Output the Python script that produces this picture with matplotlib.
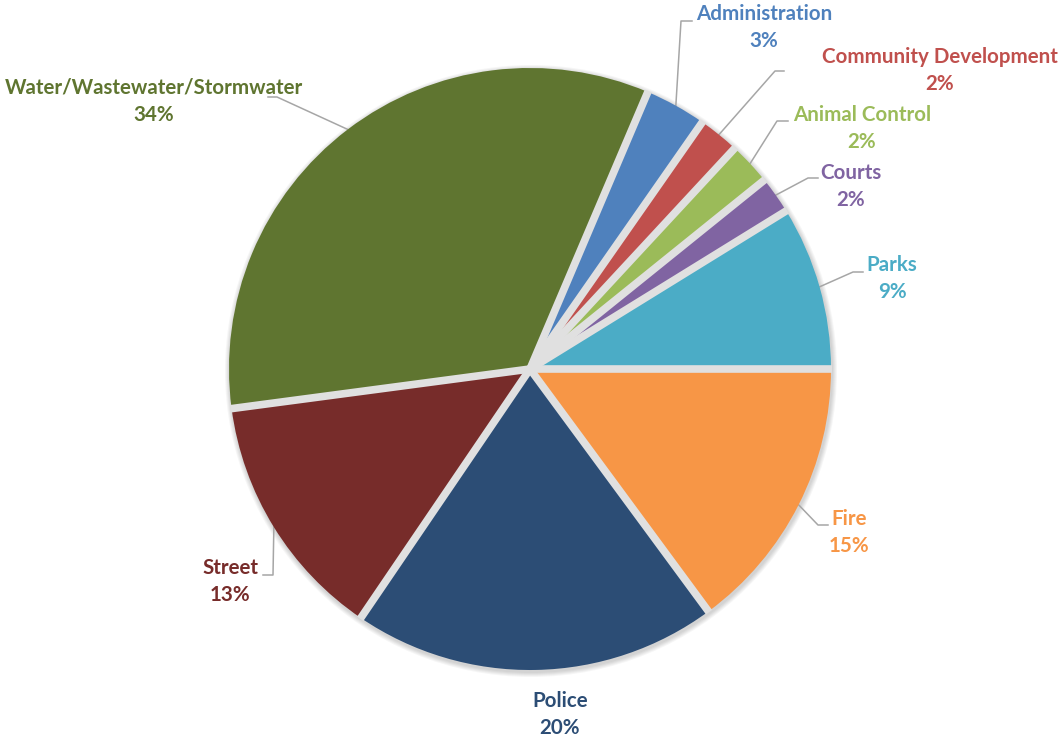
import numpy as np
import matplotlib
matplotlib.use('Agg')
import matplotlib.pyplot as plt
from matplotlib.patches import Circle

# Datos del gráfico (orden en que se dibujan, empezando a las 3 en punto)
categorias = ['Fire', 'Police', 'Street', 'Water/Wastewater/Stormwater',
              'Administration', 'Community Development', 'Animal Control',
              'Courts', 'Parks']
valores = [14.9, 19.6, 13.4, 33.5, 3.3, 2.2, 2.3, 2.0, 8.8]
colores = ['#F79646', '#2C4D75', '#772C2A', '#5F7530', '#4F81BD',
           '#C0504D', '#9BBB59', '#8064A2', '#4BACC6']

# Posición de cada etiqueta (en píxeles) y codo de la línea guía
pos_etiqueta = {
    'Fire': ((849, 519), (818, 525), 828),
    'Police': ((560, 701), None, None),
    'Street': ((230, 568), (273, 575), 263),
    'Water/Wastewater/Stormwater': ((154, 88), (277, 97), 268),
    'Administration': ((764, 14), (681, 21), 692),
    'Community Development': ((940, 57), (775, 71), 784),
    'Animal Control': ((862, 115), (777, 121), 788),
    'Courts': ((851, 173), (808, 178), 818),
    'Parks': ((892, 265), (853, 272), 863),
}

centro = (530, 369)
radio = 301

fig = plt.figure(figsize=(10.61, 7.41), dpi=100)
ax = fig.add_axes([0, 0, 1, 1])

# Sombra suave alrededor del pastel
for k in range(1, 6):
    ax.add_patch(Circle((centro[0] + 1, centro[1] + 2), radio + k,
                        facecolor='black', edgecolor='none', alpha=0.035,
                        zorder=0))

# Con el eje Y invertido, el sentido antihorario queda horario en pantalla
cunas, _ = ax.pie(valores, colors=colores, startangle=0, counterclock=True,
                  center=centro, radius=radio,
                  wedgeprops=dict(edgecolor='none', zorder=1))
ax.set_xlim(0, 1061)
ax.set_ylim(741, 0)
ax.set_aspect('equal')
ax.axis('off')

# Separadores claros entre cuñas
for cuna in cunas:
    ang = np.deg2rad(cuna.theta1)
    ax.plot([centro[0], centro[0] + (radio + 1) * np.cos(ang)],
            [centro[1], centro[1] + (radio + 1) * np.sin(ang)],
            color='#e0e0e0', linewidth=5.5, solid_capstyle='butt', zorder=2)

total = sum(valores)
for cuna, nombre, valor, color in zip(cunas, categorias, valores, colores):
    (tx, ty), codo, x_fin = pos_etiqueta[nombre]
    ax.text(tx, ty, nombre, ha='center', va='center', color=color,
            fontsize=14.8, fontweight='bold', family='Lato')
    ax.text(tx, ty + 27, f"{round(valor / total * 100)}%", ha='center',
            va='center', color=color, fontsize=14.8, fontweight='bold',
            family='Lato')
    if codo is not None:
        # La guía sale del borde en el ángulo medio de la cuña
        ang = np.deg2rad((cuna.theta1 + cuna.theta2) / 2)
        x0 = centro[0] + radio * np.cos(ang)
        y0 = centro[1] + radio * np.sin(ang)
        ax.plot([x0, codo[0], x_fin], [y0, codo[1], codo[1]],
                color='#a6a6a6', linewidth=1.1, zorder=0)

fig.savefig('out.png', dpi=100)
